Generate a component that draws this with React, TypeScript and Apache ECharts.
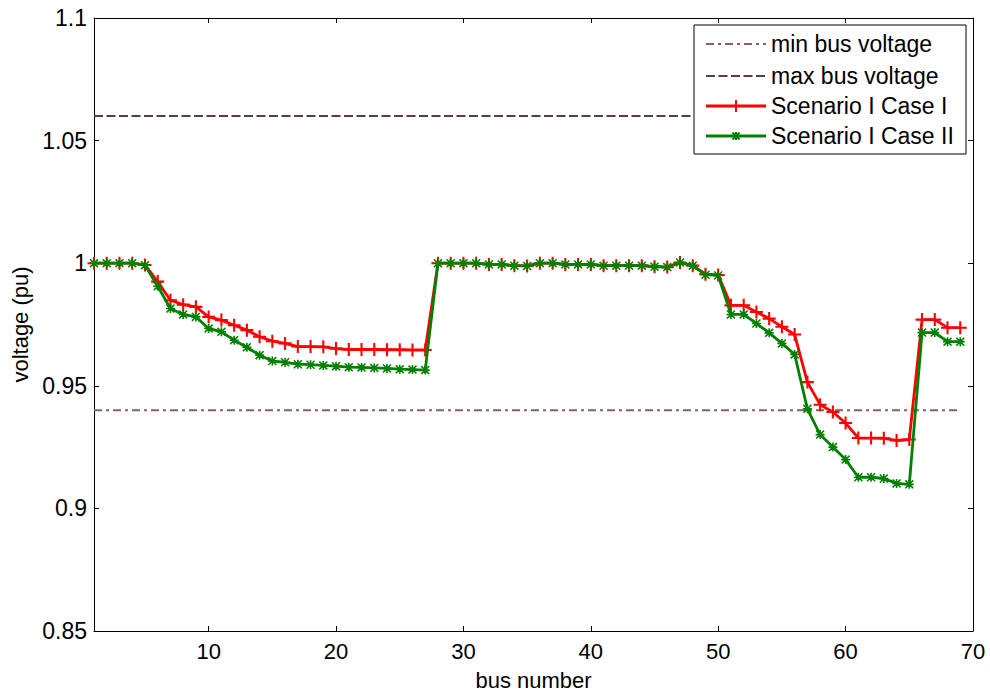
import React, { useEffect, useRef } from "react";
import * as echarts from "echarts";

const buses = [
  1, 2, 3, 4, 5, 6, 7, 8, 9, 10, 11, 12, 13, 14, 15, 16, 17, 18, 19, 20,
  21, 22, 23, 24, 25, 26, 27, 28, 29, 30, 31, 32, 33, 34, 35, 36, 37, 38, 39, 40,
  41, 42, 43, 44, 45, 46, 47, 48, 49, 50, 51, 52, 53, 54, 55, 56, 57, 58, 59, 60,
  61, 62, 63, 64, 65, 66, 67, 68, 69,
];

const caseI = [
  1.0, 1.0, 1.0, 1.0, 0.9993, 0.9925, 0.9849, 0.9831, 0.9822, 0.9781,
  0.9768, 0.9747, 0.9727, 0.97, 0.9682, 0.9673, 0.966, 0.966, 0.9659, 0.9652,
  0.9648, 0.9648, 0.9648, 0.9647, 0.9647, 0.9646, 0.9646, 1.0, 1.0, 1.0,
  1.0, 0.9995, 0.9995, 0.999, 0.9989, 1.0, 1.0, 0.9995, 0.9995, 0.9995,
  0.999, 0.999, 0.999, 0.999, 0.9986, 0.9984, 1.0003, 0.999, 0.9955, 0.9952,
  0.9828, 0.9828, 0.9801, 0.9774, 0.9741, 0.9709, 0.9515, 0.9423, 0.9393, 0.9348,
  0.9287, 0.9287, 0.9286, 0.9277, 0.9281, 0.977, 0.977, 0.9737, 0.9737,
];

const caseII = [
  1.0, 1.0, 1.0, 1.0, 0.9992, 0.9906, 0.9815, 0.9791, 0.9781, 0.9734,
  0.972, 0.9686, 0.9657, 0.9625, 0.9601, 0.9596, 0.9588, 0.9586, 0.9583, 0.958,
  0.9576, 0.9575, 0.9573, 0.9571, 0.9568, 0.9566, 0.9564, 1.0, 1.0, 1.0,
  1.0, 0.9995, 0.9995, 0.999, 0.9989, 1.0, 1.0, 0.9995, 0.9995, 0.9995,
  0.999, 0.999, 0.999, 0.999, 0.9986, 0.9984, 1.0003, 0.999, 0.9953, 0.995,
  0.9791, 0.9791, 0.9754, 0.9716, 0.9673, 0.9628, 0.9406, 0.9301, 0.925, 0.9199,
  0.9127, 0.9127, 0.9122, 0.9102, 0.9098, 0.9717, 0.9717, 0.968, 0.968,
];

const minVoltage = 0.94;
const maxVoltage = 1.06;
const limitSpan = [1, 69];

const xTicks = [10, 20, 30, 40, 50, 60, 70];
const yTicks = [0.85, 0.9, 0.95, 1, 1.05, 1.1];

const legendNames = ["min bus voltage", "max bus voltage", "Scenario I Case I", "Scenario I Case II"];

const FONT = "'Liberation Sans', Arial, sans-serif";
const MIN_COLOR = "#8c5f5f";
const MAX_COLOR = "#5c3c3c";
const RED = "#ff0000";
const GREEN = "#008000";

const PLUS =
  "path://M-0.8,-5 L0.8,-5 L0.8,-0.8 L5,-0.8 L5,0.8 L0.8,0.8 L0.8,5 L-0.8,5 L-0.8,0.8 L-5,0.8 L-5,-0.8 L-0.8,-0.8 Z";
const STAR =
  "path://M-0.9,-5 L0.9,-5 L0.9,-0.9 L5,-0.9 L5,0.9 L0.9,0.9 L0.9,5 L-0.9,5 L-0.9,0.9 L-5,0.9 L-5,-0.9 L-0.9,-0.9 Z " +
  "M-5,-3.8 L-3.8,-5 L0,-1.2 L3.8,-5 L5,-3.8 L1.2,0 L5,3.8 L3.8,5 L0,1.2 L-3.8,5 L-5,3.8 L-1.2,0 Z";

export default function App() {
  const ref = useRef<HTMLDivElement>(null);

  useEffect(() => {
    if (!ref.current) return;
    const chart = echarts.init(ref.current, undefined, { renderer: "svg" });

    const pairs = (vals: number[]) => buses.map((b, i) => [b, vals[i]]);

    const axisCommon = {
      axisLine: { show: true, lineStyle: { color: "#000", width: 1 } },
      splitLine: { show: false },
    };

    const lx = 694, ly = 25, lw = 272, lh = 129;
    const rows = [44, 76, 106, 136];
    const sx1 = 706, sx2 = 766, tx = 771;
    const mx = (sx1 + sx2) / 2;

    const legendGraphics: any[] = [
      {
        type: "rect",
        shape: { x: lx, y: ly, width: lw, height: lh },
        style: { fill: "#fff", stroke: "#000", lineWidth: 1 },
        z: 100,
      },
      {
        type: "line",
        shape: { x1: sx1, y1: rows[0], x2: sx2, y2: rows[0] },
        style: { stroke: MIN_COLOR, lineWidth: 2, lineDash: [8, 4, 3, 4] },
        z: 101,
      },
      {
        type: "line",
        shape: { x1: sx1, y1: rows[1], x2: sx2, y2: rows[1] },
        style: { stroke: MAX_COLOR, lineWidth: 2, lineDash: [9, 3.5] },
        z: 101,
      },
      {
        type: "line",
        shape: { x1: sx1, y1: rows[2], x2: sx2, y2: rows[2] },
        style: { stroke: RED, lineWidth: 2.8 },
        z: 101,
      },
      {
        type: "line",
        shape: { x1: mx, y1: rows[2] - 6, x2: mx, y2: rows[2] + 6 },
        style: { stroke: RED, lineWidth: 2 },
        z: 101,
      },
      {
        type: "line",
        shape: { x1: sx1, y1: rows[3], x2: sx2, y2: rows[3] },
        style: { stroke: GREEN, lineWidth: 2.8 },
        z: 101,
      },
      {
        type: "line",
        shape: { x1: mx - 3.5, y1: rows[3] - 3.5, x2: mx + 3.5, y2: rows[3] + 3.5 },
        style: { stroke: GREEN, lineWidth: 2 },
        z: 101,
      },
      {
        type: "line",
        shape: { x1: mx - 3.5, y1: rows[3] + 3.5, x2: mx + 3.5, y2: rows[3] - 3.5 },
        style: { stroke: GREEN, lineWidth: 2 },
        z: 101,
      },
      {
        type: "line",
        shape: { x1: mx, y1: rows[3] - 4, x2: mx, y2: rows[3] + 4 },
        style: { stroke: GREEN, lineWidth: 2 },
        z: 101,
      },
      ...legendNames.map((name, i) => ({
        type: "text",
        x: tx,
        y: rows[i],
        style: {
          text: name,
          fill: "#000",
          font: `23px ${FONT}`,
          verticalAlign: "middle",
          align: "left",
        },
        z: 102,
      })),
    ];

    chart.setOption({
      animation: false,
      backgroundColor: "#fff",
      textStyle: { fontFamily: FONT },
      grid: { left: 94, right: 17, top: 18, bottom: 63, containLabel: false },
      xAxis: [
        {
          type: "value",
          min: 1,
          max: 70,
          ...axisCommon,
          axisTick: { show: true, inside: true, length: 5, customValues: xTicks, lineStyle: { color: "#000" } },
          axisLabel: {
            show: true,
            customValues: xTicks,
            color: "#000",
            fontSize: 22,
            fontFamily: FONT,
            margin: 9,
          },
          name: "bus number",
          nameLocation: "middle",
          nameGap: 38,
          nameTextStyle: { color: "#000", fontSize: 22, fontFamily: FONT },
        },
        {
          type: "value",
          position: "top",
          min: 1,
          max: 70,
          ...axisCommon,
          axisTick: { show: true, inside: true, length: 5, customValues: xTicks, lineStyle: { color: "#000" } },
          axisLabel: { show: false },
        },
      ],
      yAxis: [
        {
          type: "value",
          min: 0.85,
          max: 1.1,
          ...axisCommon,
          axisTick: { show: true, inside: true, length: 5, customValues: yTicks, lineStyle: { color: "#000" } },
          axisLabel: {
            show: true,
            customValues: yTicks,
            color: "#000",
            fontSize: 23,
            fontFamily: FONT,
            margin: 7,
            formatter: (v: number) => String(+v.toFixed(2)),
          },
          name: "voltage (pu)",
          nameLocation: "middle",
          nameGap: 62,
          nameTextStyle: { color: "#000", fontSize: 22, fontFamily: FONT },
        },
        {
          type: "value",
          position: "right",
          min: 0.85,
          max: 1.1,
          ...axisCommon,
          axisTick: { show: true, inside: true, length: 5, customValues: yTicks, lineStyle: { color: "#000" } },
          axisLabel: { show: false },
        },
      ],
      series: [
        {
          name: legendNames[0],
          type: "line",
          xAxisIndex: 0,
          yAxisIndex: 0,
          data: limitSpan.map((x) => [x, minVoltage]),
          showSymbol: false,
          symbol: "none",
          lineStyle: { color: MIN_COLOR, width: 2, type: [8, 4, 3, 4] },
          z: 2,
        },
        {
          name: legendNames[1],
          type: "line",
          xAxisIndex: 0,
          yAxisIndex: 0,
          data: limitSpan.map((x) => [x, maxVoltage]),
          showSymbol: false,
          symbol: "none",
          lineStyle: { color: MAX_COLOR, width: 2, type: [9, 3.5] },
          z: 2,
        },
        {
          name: legendNames[2],
          type: "line",
          xAxisIndex: 0,
          yAxisIndex: 0,
          data: pairs(caseI),
          symbol: PLUS,
          symbolSize: 13,
          showSymbol: true,
          itemStyle: { color: RED },
          lineStyle: { color: RED, width: 2.8 },
          z: 3,
        },
        {
          name: legendNames[3],
          type: "line",
          xAxisIndex: 0,
          yAxisIndex: 0,
          data: pairs(caseII),
          symbol: STAR,
          symbolSize: 9,
          showSymbol: true,
          itemStyle: { color: GREEN },
          lineStyle: { color: GREEN, width: 2.8 },
          z: 4,
        },
      ],
      graphic: legendGraphics,
    });

    return () => chart.dispose();
  }, []);

  return (
    <div
      ref={ref}
      style={{ position: "fixed", left: 0, top: 0, width: 990, height: 696, background: "#fff" }}
    />
  );
}
